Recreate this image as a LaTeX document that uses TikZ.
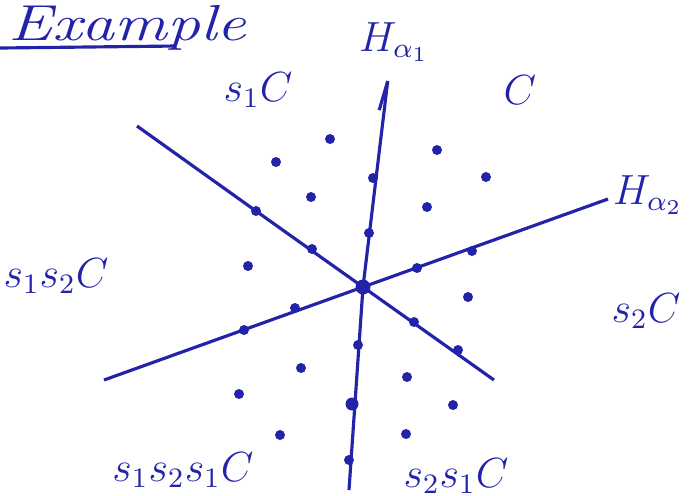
\documentclass[tikz,border=0pt]{standalone}
\usepackage{amsmath}
\usepackage{tikz}
\usetikzlibrary{arrows.meta,positioning}
\definecolor{ink}{RGB}{35,35,170}

\begin{document}
\begin{tikzpicture}[x=0.1mm, y=-0.1mm, draw=ink, line width=0.9pt,
    pt/.style={circle, fill=ink, inner sep=0pt, minimum size=1mm},
    lbl/.style={text=ink, font=\large}]
    \useasboundingbox (0,0) rectangle (689,495);

    % Title, underlined
    \node[text=ink, font=\Large\itshape, xscale=1.3, anchor=base west, inner sep=1pt] (title) at (2,40) {Example};
    \coordinate (ul1) at (0,48);
    \coordinate (ul2) at (176,46);
    \draw (ul1) -- (ul2);

    % Origin and line end points
    \node[pt, minimum size=1.5mm] (o) at (363,287) {};
    \coordinate (a1bot) at (349,490);
    \coordinate (a1top) at (390,62);
    \coordinate (a2left) at (104,380);
    \coordinate (a2right) at (608,199);
    \coordinate (w1) at (137,126);
    \coordinate (w2) at (494,380);

    % Points on the walls
    \node[pt] (p1) at (373,178) {};
    \node[pt] (p2) at (369,233) {};
    \node[pt] (p3) at (358,345) {};
    \node[pt, minimum size=1.3mm] (p4) at (352,404) {};
    \node[pt] (p5) at (349,460) {};
    \node[pt] (p6) at (417,268) {};
    \node[pt] (p7) at (472,251) {};
    \node[pt] (p8) at (295,308) {};
    \node[pt] (p9) at (244,330) {};
    \node[pt] (p10) at (256,211) {};
    \node[pt] (p11) at (312,249) {};
    \node[pt] (p12) at (414,322) {};
    \node[pt] (p13) at (458,350) {};

    % Points inside the chambers
    \foreach \x/\y [count=\i] in {330/139, 276/162, 311/197, 248/266,
        437/150, 486/177, 427/207, 468/297,
        301/368, 239/394, 280/435, 407/377, 453/405, 406/434}
        \node[pt] (c\i) at (\x,\y) {};

    % Walls
    \draw[-{Straight Barb[left, length=3mm, width=1mm]}] (a1bot) -- (o.center) -- (a1top);
    \draw (a2left) -- (a2right);
    \draw plot[smooth, tension=0.7] coordinates {(w1) (p10.center) (o.center) (w2)};

    % Wall labels
    \node[lbl] (h1) at (394,42) {$H_{\alpha_1}$};
    \node[lbl] (h2) at (648,195) {$H_{\alpha_2}$};

    % Chamber labels
    \node[lbl] (ch1) at (520,90) {$C$};
    \node[lbl] (ch2) at (258,90) {$s_1 C$};
    \node[lbl] (ch3) at (56,276) {$s_1 s_2 C$};
    \node[lbl] (ch4) at (646,311) {$s_2 C$};
    \node[lbl] (ch5) at (183,470) {$s_1 s_2 s_1 C$};
    \node[lbl] (ch6) at (456,476) {$s_2 s_1 C$};
\end{tikzpicture}
\end{document}
